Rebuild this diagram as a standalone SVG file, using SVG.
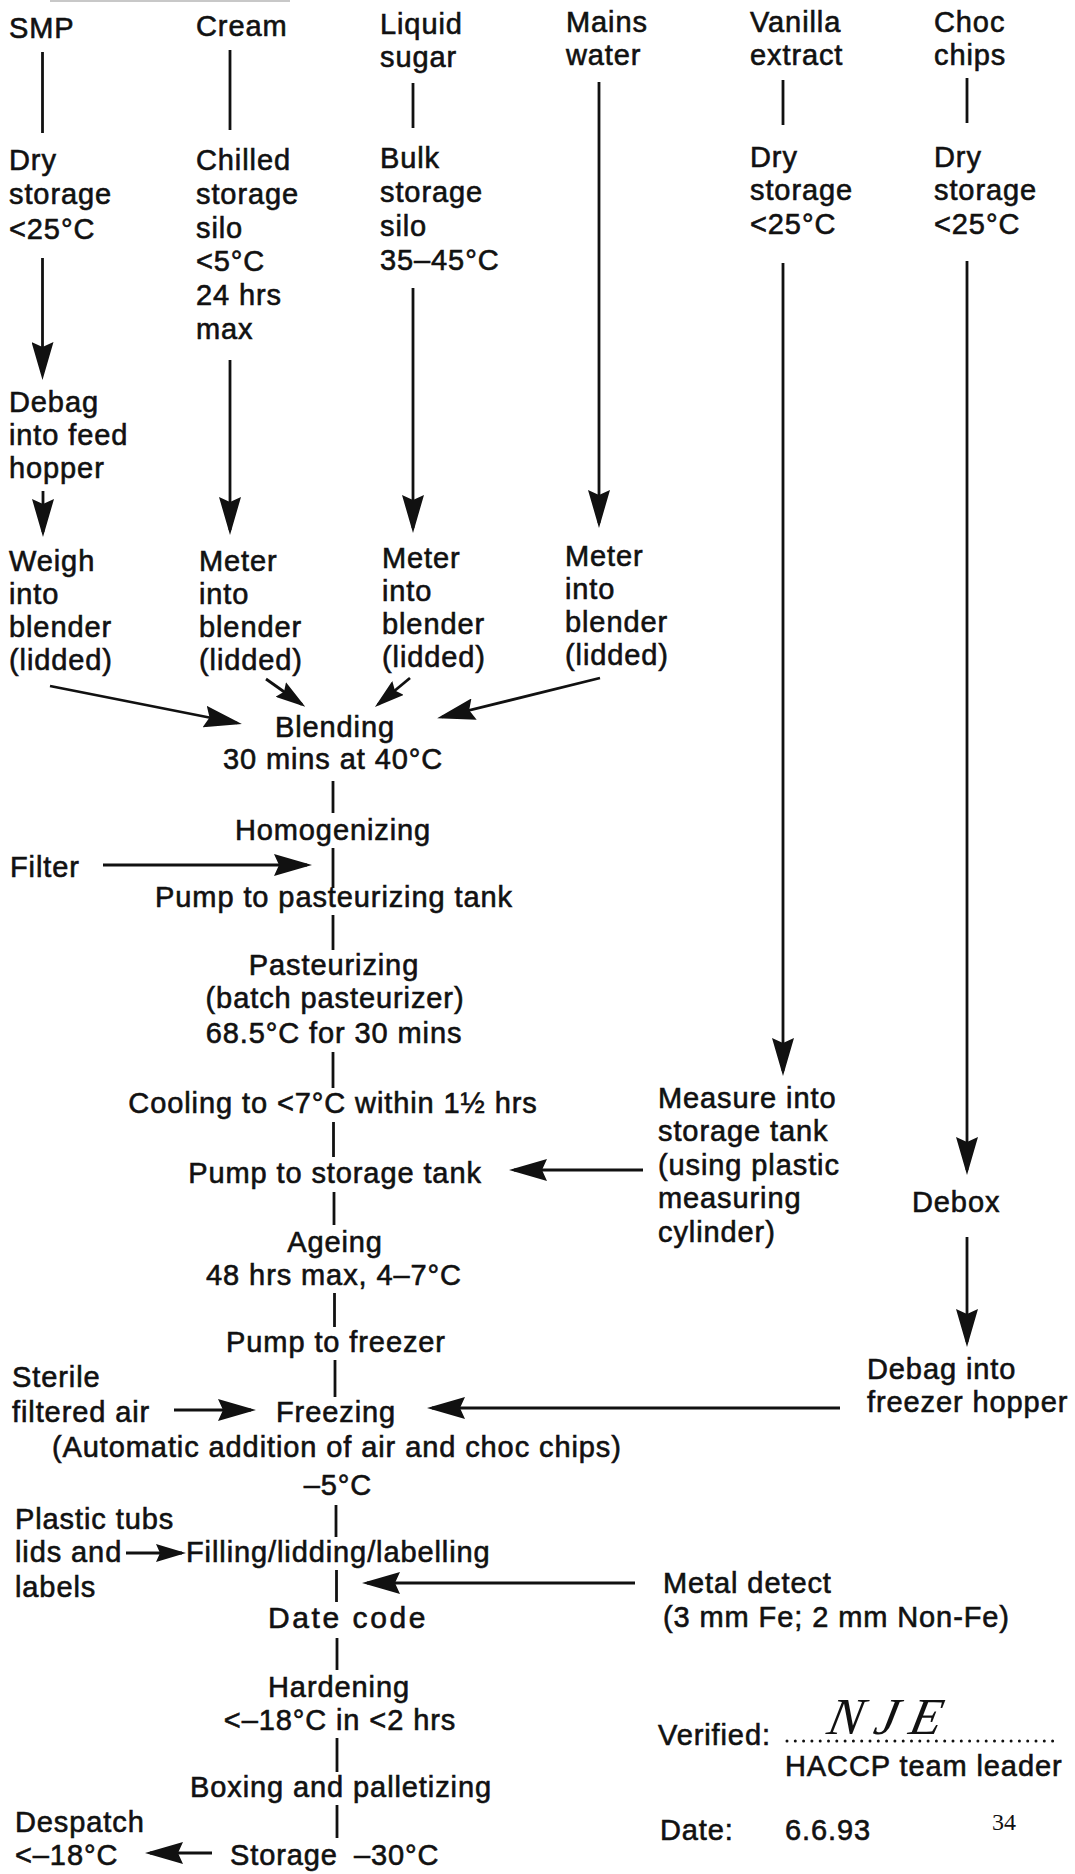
<svg xmlns="http://www.w3.org/2000/svg" width="1075" height="1874" viewBox="0 0 1075 1874">
  <style>
    .t { font-family: "Liberation Sans", Arial, Helvetica, sans-serif; font-size: 29px; letter-spacing: 0.9px; fill: #111; stroke: #111; stroke-width: 0.6px; }
    .c { text-anchor: middle; }
    .ln { stroke: #111; stroke-width: 2.8; fill: none; }
    .ar { marker-end: url(#head); }
    .as { marker-end: url(#headS); }
  </style>
  <defs>
    <!-- long barbed arrowhead used on the ingredient lines and side feeds -->
    <marker id="head" markerUnits="userSpaceOnUse" viewBox="0 0 38 22" refX="33" refY="11" markerWidth="38" markerHeight="22" orient="auto">
      <path d="M38,11 L0,0 L5,11 L0,22 Z" fill="#111"/>
    </marker>
    <!-- shorter arrowhead for the short feeds -->
    <marker id="headS" markerUnits="userSpaceOnUse" viewBox="0 0 30 18" refX="26" refY="9" markerWidth="30" markerHeight="18" orient="auto">
      <path d="M30,9 L0,0 L4,9 L0,18 Z" fill="#111"/>
    </marker>
  </defs>

  <rect x="0" y="0" width="1075" height="1874" fill="#fff"/>
  <!-- cut-off rule at the top edge -->
  <line x1="50" y1="1" x2="290" y2="1" stroke="#c8c8c8" stroke-width="2"/>

  <!-- ingredient column: SMP -->
  <g id="smp"><text class="t" x="9" y="38">SMP</text></g>
  <g id="smp-store"><text class="t" x="9" y="170">Dry</text><text class="t" x="9" y="204">storage</text><text class="t" x="9" y="239">&lt;25°C</text></g>
  <g id="smp-debag"><text class="t" x="9" y="412">Debag</text><text class="t" x="9" y="445">into feed</text><text class="t" x="9" y="478">hopper</text></g>
  <g id="smp-weigh"><text class="t" x="9" y="571">Weigh</text><text class="t" x="9" y="604">into</text><text class="t" x="9" y="637">blender</text><text class="t" x="9" y="670">(lidded)</text></g>

  <!-- ingredient column: Cream -->
  <g id="cream"><text class="t" x="196" y="36">Cream</text></g>
  <g id="cream-store"><text class="t" x="196" y="170">Chilled</text><text class="t" x="196" y="204">storage</text><text class="t" x="196" y="238">silo</text><text class="t" x="196" y="271">&lt;5°C</text><text class="t" x="196" y="305">24 hrs</text><text class="t" x="196" y="339">max</text></g>
  <g id="cream-meter"><text class="t" x="199" y="571">Meter</text><text class="t" x="199" y="604">into</text><text class="t" x="199" y="637">blender</text><text class="t" x="199" y="670">(lidded)</text></g>

  <!-- ingredient column: Liquid sugar -->
  <g id="sugar"><text class="t" x="380" y="34">Liquid</text><text class="t" x="380" y="67">sugar</text></g>
  <g id="sugar-store"><text class="t" x="380" y="168">Bulk</text><text class="t" x="380" y="202">storage</text><text class="t" x="380" y="236">silo</text><text class="t" x="380" y="270">35–45°C</text></g>
  <g id="sugar-meter"><text class="t" x="382" y="568">Meter</text><text class="t" x="382" y="601">into</text><text class="t" x="382" y="634">blender</text><text class="t" x="382" y="667">(lidded)</text></g>

  <!-- ingredient column: Mains water -->
  <g id="water"><text class="t" x="566" y="32">Mains</text><text class="t" x="566" y="65">water</text></g>
  <g id="water-meter"><text class="t" x="565" y="566">Meter</text><text class="t" x="565" y="599">into</text><text class="t" x="565" y="632">blender</text><text class="t" x="565" y="665">(lidded)</text></g>

  <!-- ingredient column: Vanilla extract -->
  <g id="vanilla"><text class="t" x="750" y="32">Vanilla</text><text class="t" x="750" y="65">extract</text></g>
  <g id="vanilla-store"><text class="t" x="750" y="167">Dry</text><text class="t" x="750" y="200">storage</text><text class="t" x="750" y="234">&lt;25°C</text></g>
  <g id="vanilla-measure"><text class="t" x="658" y="1108">Measure into</text><text class="t" x="658" y="1141">storage tank</text><text class="t" x="658" y="1175">(using plastic</text><text class="t" x="658" y="1208">measuring</text><text class="t" x="658" y="1242">cylinder)</text></g>

  <!-- ingredient column: Choc chips -->
  <g id="choc"><text class="t" x="934" y="32">Choc</text><text class="t" x="934" y="65">chips</text></g>
  <g id="choc-store"><text class="t" x="934" y="167">Dry</text><text class="t" x="934" y="200">storage</text><text class="t" x="934" y="234">&lt;25°C</text></g>
  <g id="choc-debox"><text class="t" x="912" y="1212">Debox</text></g>
  <g id="choc-debag"><text class="t" x="867" y="1379">Debag into</text><text class="t" x="867" y="1412">freezer hopper</text></g>

  <!-- main process line -->
  <g id="blending"><text class="t c" x="335" y="737">Blending</text><text class="t c" x="333" y="769">30 mins at 40°C</text></g>
  <g id="homogenizing"><text class="t c" x="333" y="840">Homogenizing</text></g>
  <g id="filter"><text class="t" x="10" y="877">Filter</text></g>
  <g id="pump-past"><text class="t c" x="334" y="907">Pump to pasteurizing tank</text></g>
  <g id="pasteurizing"><text class="t c" x="334" y="975">Pasteurizing</text><text class="t c" x="335" y="1008">(batch pasteurizer)</text><text class="t c" x="334" y="1043">68.5°C for 30 mins</text></g>
  <g id="cooling"><text class="t c" x="333" y="1113">Cooling to &lt;7°C within 1½ hrs</text></g>
  <g id="pump-storage"><text class="t c" x="335" y="1183">Pump to storage tank</text></g>
  <g id="ageing"><text class="t c" x="335" y="1252">Ageing</text><text class="t c" x="334" y="1285">48 hrs max, 4–7°C</text></g>
  <g id="pump-freezer"><text class="t c" x="336" y="1352">Pump to freezer</text></g>
  <g id="air"><text class="t" x="12" y="1387">Sterile</text><text class="t" x="12" y="1422">filtered air</text></g>
  <g id="freezing"><text class="t" x="276" y="1422">Freezing</text><text class="t" x="52" y="1457">(Automatic addition of air and choc chips)</text><text class="t c" x="338" y="1495">–5°C</text></g>
  <g id="packaging"><text class="t" x="15" y="1529">Plastic tubs</text><text class="t" x="15" y="1562">lids and</text><text class="t" x="15" y="1597">labels</text></g>
  <g id="filling"><text class="t" x="186" y="1562">Filling/lidding/labelling</text></g>
  <g id="metal"><text class="t" x="663" y="1593">Metal detect</text><text class="t" x="663" y="1627">(3 mm Fe; 2 mm Non-Fe)</text></g>
  <g id="datecode"><text class="t c" x="348" y="1628" style="font-size:30px;letter-spacing:2.6px">Date code</text></g>
  <g id="hardening"><text class="t c" x="339" y="1697">Hardening</text><text class="t c" x="340" y="1730">&lt;–18°C in &lt;2 hrs</text></g>
  <g id="boxing"><text class="t c" x="341" y="1797">Boxing and palletizing</text></g>
  <g id="storage"><text class="t" x="230" y="1865">Storage</text><text class="t" x="354" y="1865">–30°C</text></g>
  <g id="despatch"><text class="t" x="15" y="1832">Despatch</text><text class="t" x="15" y="1865">&lt;–18°C</text></g>

  <!-- sign-off block -->
  <g id="verified">
    <text class="t" x="658" y="1745">Verified:</text>
    <line x1="787" y1="1741" x2="1057" y2="1741" stroke="#111" stroke-width="3" stroke-linecap="round" stroke-dasharray="0 8.3"/>
    <text x="826" y="1734" transform="skewX(-12) translate(368,0)" style="font-family:'Liberation Serif','DejaVu Serif',serif;font-style:italic;font-size:52px;letter-spacing:12px;fill:#111">NJE</text>
    <text class="t" x="785" y="1776">HACCP team leader</text>
  </g>
  <g id="date"><text class="t" x="660" y="1840">Date:</text><text class="t" x="785" y="1840">6.6.93</text></g>
  <g id="page"><text x="992" y="1830" style="font-family:'Liberation Serif','Times New Roman',serif;font-size:24px;fill:#111">34</text></g>

  <!-- connectors -->
  <g id="connectors">
    <!-- SMP -->
    <line class="ln" x1="42.5" y1="52" x2="42.5" y2="133"/>
    <line class="ln ar" x1="42.5" y1="258" x2="42.5" y2="375"/>
    <line class="ln ar" x1="43" y1="491" x2="43" y2="532"/>
    <!-- Cream -->
    <line class="ln" x1="230" y1="50" x2="230" y2="130"/>
    <line class="ln ar" x1="230" y1="360" x2="230" y2="530"/>
    <!-- Liquid sugar -->
    <line class="ln" x1="413" y1="83" x2="413" y2="128"/>
    <line class="ln ar" x1="413" y1="288" x2="413" y2="528"/>
    <!-- Mains water -->
    <line class="ln ar" x1="599" y1="82" x2="599" y2="523"/>
    <!-- Vanilla -->
    <line class="ln" x1="783" y1="80" x2="783" y2="125"/>
    <line class="ln ar" x1="783" y1="263" x2="783" y2="1071"/>
    <!-- Choc chips -->
    <line class="ln" x1="967" y1="78" x2="967" y2="123"/>
    <line class="ln ar" x1="967" y1="261" x2="967" y2="1170"/>
    <line class="ln ar" x1="967" y1="1237" x2="967" y2="1342"/>

    <!-- into blending -->
    <line class="ln ar" x1="50" y1="686" x2="237" y2="723"/>
    <line class="ln as" x1="266" y1="679" x2="302" y2="704.5"/>
    <line class="ln as" x1="410" y1="678" x2="378" y2="704.5"/>
    <line class="ln ar" x1="600" y1="678" x2="442" y2="717"/>

    <!-- main trunk -->
    <line class="ln" x1="333" y1="781" x2="333" y2="813"/>
    <line class="ln" x1="333" y1="848" x2="333" y2="888"/>
    <line class="ln" x1="333" y1="915" x2="333" y2="950"/>
    <line class="ln" x1="333" y1="1052" x2="333" y2="1088"/>
    <line class="ln" x1="333.5" y1="1122" x2="333.5" y2="1157"/>
    <line class="ln" x1="334" y1="1192" x2="334" y2="1225"/>
    <line class="ln" x1="334.5" y1="1293" x2="334.5" y2="1327"/>
    <line class="ln" x1="335" y1="1360" x2="335" y2="1397"/>
    <line class="ln" x1="336" y1="1505" x2="336" y2="1537"/>
    <line class="ln" x1="336.5" y1="1570" x2="336.5" y2="1602"/>
    <line class="ln" x1="337" y1="1638" x2="337" y2="1670"/>
    <line class="ln" x1="337" y1="1738" x2="337" y2="1772"/>
    <line class="ln" x1="337" y1="1805" x2="337" y2="1838"/>

    <!-- side feeds -->
    <line class="ln ar" x1="103" y1="865" x2="307" y2="865"/>
    <line class="ln ar" x1="643" y1="1170" x2="514" y2="1170"/>
    <line class="ln ar" x1="174" y1="1410" x2="251" y2="1410"/>
    <line class="ln ar" x1="840" y1="1408" x2="432" y2="1408"/>
    <line class="ln as" x1="126" y1="1553" x2="182" y2="1553"/>
    <line class="ln ar" x1="635" y1="1583" x2="367" y2="1583"/>
    <line class="ln ar" x1="212" y1="1853" x2="150" y2="1853"/>
  </g>
</svg>
